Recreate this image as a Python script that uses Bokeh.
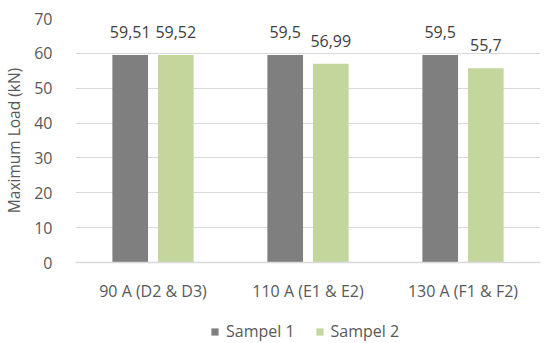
from bokeh.plotting import figure
from bokeh.layouts import column
from bokeh.core.properties import value
from bokeh.models import (ColumnDataSource, FactorRange, Legend, LegendItem,
                          LabelSet, SingleIntervalTicker)
from bokeh.transform import dodge
from bokeh.embed import file_html
from bokeh.resources import INLINE

# Maximum load per welding current, two samples each
categories = ["90 A (D2 & D3)", "110 A (E1 & E2)", "130 A (F1 & F2)"]
sampel_1 = [59.51, 59.5, 59.5]
sampel_2 = [59.52, 56.99, 55.7]
series_names = ["Sampel 1", "Sampel 2"]
series_colors = ["#7f7f7f", "#c3d69b"]

FONT = "Open Sans"
TEXT = "#595959"
GRID = "#d9d9d9"


def fmt(v):
    return f"{v:g}".replace(".", ",")


src = ColumnDataSource(dict(
    cat=categories,
    s1=sampel_1,
    s2=sampel_2,
    s1_lbl=[fmt(v) for v in sampel_1],
    s2_lbl=[fmt(v) for v in sampel_2],
))

p = figure(
    x_range=FactorRange(*categories),
    y_range=(0, 70),
    width=547, height=304,
    output_backend="svg", toolbar_location=None,
    min_border_left=73, min_border_right=7,
    min_border_top=18, min_border_bottom=41,
)
p.outline_line_color = None
p.background_fill_color = "white"

bar_w = 0.23
off = 0.147
p.vbar(x=dodge("cat", -off, range=p.x_range), top="s1", width=bar_w,
       source=src, fill_color=series_colors[0], line_color=None)
p.vbar(x=dodge("cat", off, range=p.x_range), top="s2", width=bar_w,
       source=src, fill_color=series_colors[1], line_color=None)

# Value labels above each bar
for col, lbl, dx in (("s1", "s1_lbl", -off), ("s2", "s2_lbl", off)):
    p.add_layout(LabelSet(
        x=dodge("cat", dx, range=p.x_range), y=col, text=lbl, source=src,
        text_align="center", text_baseline="alphabetic", y_offset=17,
        text_font=value(FONT), text_font_size=value("16px"),
        text_color=value("#404040"),
    ))

# Axes and grid
p.yaxis.ticker = SingleIntervalTicker(interval=10)
p.yaxis.axis_line_color = None
p.yaxis.major_tick_line_color = None
p.yaxis.minor_tick_line_color = None
p.yaxis.major_label_standoff = 17
p.yaxis.axis_label = "Maximum Load (kN)"
p.yaxis.axis_label_standoff = 6
p.yaxis.axis_label_text_font = FONT
p.yaxis.axis_label_text_font_style = "normal"
p.yaxis.axis_label_text_font_size = "15.5px"
p.yaxis.axis_label_text_color = TEXT

p.xaxis.axis_line_color = GRID
p.xaxis.axis_line_width = 1.5
p.xaxis.major_tick_line_color = None
p.xaxis.minor_tick_line_color = None
p.xaxis.major_label_standoff = 11

for ax in (p.xaxis, p.yaxis):
    ax.major_label_text_font = FONT
    ax.major_label_text_font_size = "16px"
    ax.major_label_text_color = TEXT

p.xgrid.grid_line_color = None
p.ygrid.grid_line_color = GRID
p.ygrid.grid_line_width = 1

# Legend strip under the chart; its key renderers hold one point kept out of view.
# The column aligns this strip's frame with the chart frame, so x is frame-relative.
leg = figure(width=547, height=39, output_backend="svg", toolbar_location=None,
             x_range=(0, 1), y_range=(0, 1),
             x_axis_location=None, y_axis_location=None,
             min_border=0, min_border_left=0, min_border_right=0,
             min_border_top=0, min_border_bottom=0)
leg.grid.visible = False
leg.outline_line_color = None
offscreen = ColumnDataSource(dict(x=[-10.0], top=[-10.0]))
k1 = leg.vbar(x="x", top="top", width=0.1, source=offscreen,
              fill_color=series_colors[0], line_color=None)
k2 = leg.vbar(x="x", top="top", width=0.1, source=offscreen,
              fill_color=series_colors[1], line_color=None)
legend = Legend(
    items=[LegendItem(label=series_names[0], renderers=[k1]),
           LegendItem(label=series_names[1], renderers=[k2])],
    orientation="horizontal", location=(135, 1),
    border_line_color=None, background_fill_alpha=0,
    glyph_width=9, glyph_height=9, spacing=20,
    label_text_font=FONT, label_text_font_size="16px", label_text_color=TEXT,
    label_standoff=7, label_height=18, margin=0, padding=0,
)
leg.add_layout(legend)

layout = column(p, leg, spacing=0)
open("out.html", "w").write(file_html(layout, INLINE))
